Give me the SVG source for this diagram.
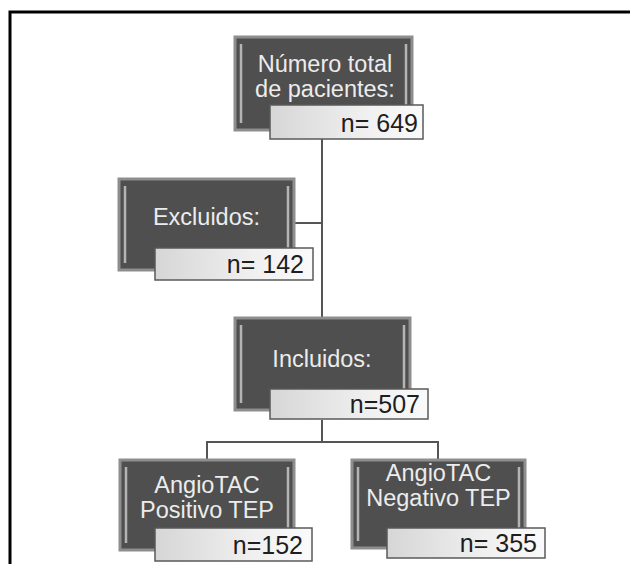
<svg xmlns="http://www.w3.org/2000/svg" width="630" height="564" viewBox="0 0 630 564">
<defs>
<linearGradient id="lbl" x1="0" y1="0" x2="1" y2="0">
<stop offset="0" stop-color="#d6d6d6"/>
<stop offset="0.6" stop-color="#efefef"/>
<stop offset="1" stop-color="#fafafa"/>
</linearGradient>
<style>
.dark{fill:#4f4f4f;stroke:#8e8e8e;stroke-width:3}
.bev{stroke:#b4b4b4;stroke-width:2.5;fill:none}
.lbl{fill:url(#lbl);stroke:#5a5a5a;stroke-width:1.5}
.t{font-family:"Liberation Sans",Arial,sans-serif;font-size:23.5px;fill:#ececec;text-anchor:middle}
.n{font-family:"Liberation Sans",Arial,sans-serif;font-size:25px;fill:#1e1e1e;text-anchor:end}
.c{stroke:#555;stroke-width:2;fill:none}
</style>
</defs>
<rect x="0" y="0" width="630" height="564" fill="#ffffff"/>
<path d="M10,564 V12 H630" fill="none" stroke="#000" stroke-width="3"/>
<g id="connectors">
<path class="c" d="M322,139 V318"/>
<path class="c" d="M294,223 H322"/>
<path class="c" d="M322,420 V442 M207,460 V442 H438 V460"/>
</g>
<g id="total">
<rect class="dark" x="235" y="37" width="177" height="93"/>
<path class="bev" d="M241,44 V123 M406,44 V123"/>
<text class="t" x="325" y="72">Número total</text>
<text class="t" x="325" y="97">de pacientes:</text>
<rect class="lbl" x="270" y="105" width="153" height="34"/>
<text class="n" x="418" y="132">n= 649</text>
</g>
<g id="excluidos">
<rect class="dark" x="119" y="179" width="175" height="91"/>
<path class="bev" d="M125,186 V263 M288,186 V263"/>
<text class="t" x="206.5" y="225">Excluidos:</text>
<rect class="lbl" x="155" y="248" width="158" height="32"/>
<text class="n" x="304" y="273">n= 142</text>
</g>
<g id="incluidos">
<rect class="dark" x="235" y="318" width="175" height="92"/>
<path class="bev" d="M241,325 V403 M404,325 V403"/>
<text class="t" x="322" y="367">Incluidos:</text>
<rect class="lbl" x="270" y="389" width="158" height="30"/>
<text class="n" x="420" y="413">n=507</text>
</g>
<g id="positivo">
<rect class="dark" x="120" y="460" width="174" height="90"/>
<path class="bev" d="M126,467 V543 M288,467 V543"/>
<text class="t" x="207" y="493">AngioTAC</text>
<text class="t" x="207" y="518">Positivo TEP</text>
<rect class="lbl" x="155" y="528" width="157" height="33"/>
<text class="n" x="303" y="554">n=152</text>
</g>
<g id="negativo">
<rect class="dark" x="352" y="460" width="173" height="88"/>
<path class="bev" d="M358,467 V541 M519,467 V541"/>
<text class="t" x="438.5" y="480.5">AngioTAC</text>
<text class="t" x="438.5" y="505.5">Negativo TEP</text>
<rect class="lbl" x="387" y="528" width="158" height="30"/>
<text class="n" x="537" y="552">n= 355</text>
</g>
</svg>
